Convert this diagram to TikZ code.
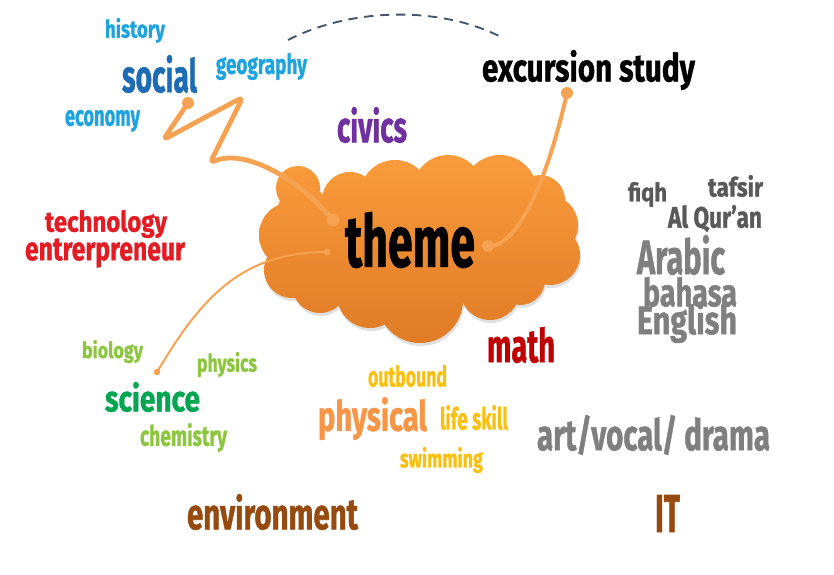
\documentclass[tikz,border=0pt]{standalone}
\usepackage{fontspec}
\setmainfont{Fira Sans}[BoldFeatures={FakeBold=1.2}]
\usepackage{graphicx}
\newlength\pxu \setlength\pxu{0.75pt}
\newcommand\fitword[3]{\resizebox*{#1\pxu}{#2\pxu}{\bfseries #3}}
\definecolor{cyanw}{HTML}{1DA3DF}
\definecolor{socialc}{HTML}{1B6CB5}
\definecolor{civicsc}{HTML}{7030A0}
\definecolor{redw}{HTML}{E41B23}
\definecolor{dgray}{HTML}{595959}
\definecolor{mgray}{HTML}{7F7F7F}
\definecolor{lgreen}{HTML}{8CC63F}
\definecolor{dgreen}{HTML}{00A650}
\definecolor{mathc}{HTML}{C00000}
\definecolor{yelw}{HTML}{FAC010}
\definecolor{physc}{HTML}{F79646}
\definecolor{brownw}{HTML}{974A0E}
\definecolor{dashc}{HTML}{44546A}
\definecolor{connc}{HTML}{F6A253}
\definecolor{cloudtop}{HTML}{FA9C3C}
\definecolor{cloudbot}{HTML}{E07A26}
\tikzset{
  word/.style={inner sep=0pt, outer sep=0pt, anchor=center},
  conn/.style={draw=connc, line cap=round, line join=round},
  dotn/.style={circle, fill=connc, inner sep=0pt, minimum size=#1},
}
\newcommand\cloudpath{%
  (298,188) circle (22) (350,200) circle (28) (395,195) circle (35)
  (448,190) circle (35) (500,192) circle (37) (540,200) circle (25)
  (548,225) circle (30) (550,255) circle (30) (520,280) circle (25)
  (490,290) circle (30) (420,300) circle (43) (370,295) circle (33)
  (320,285) circle (28) (292,270) circle (28) (292,235) circle (33)
  (303,210) circle (25) (420,240) ellipse (130 and 65)}
\begin{document}
\begin{tikzpicture}[x=0.75pt,y=-0.75pt]
\useasboundingbox (0,0) rectangle (834,574);
% cloud shadow
\fill[black!12, shift={(1,3)}] \cloudpath;
% cloud
\begin{scope}
  \clip \cloudpath;
  \shade[top color=cloudtop, bottom color=cloudbot] (240,150) rectangle (600,350);
\end{scope}
% dashed arc
\coordinate (dA) at (288,40);
\coordinate (dB) at (503,38);
\draw[dashc, line width=1.4pt, dash pattern=on 7pt off 5pt] (dA) .. controls (350,8) and (440,5) .. (dB);
% dots
\node[dotn=9pt] (sdot) at (188,103) {};
\node[dotn=9.5pt] (tdot1) at (333,220) {};
\node[dotn=9pt] (edot) at (567,93) {};
\node[dotn=9pt] (tdot2) at (488,246) {};
\node[dotn=5pt] (cdot) at (157,372) {};
\node[dotn=5pt] (tdot3) at (327,252) {};
% connectors
\draw[conn, line width=3.6pt, rounded corners=4pt] (sdot.center) -- (163,140) -- (243,97) -- (210,163) .. controls (240,150) and (290,170) .. (tdot1.center);
\draw[conn, line width=3pt] (edot.center) .. controls (545,190) and (515,248) .. (tdot2.center);
\draw[conn, line width=1.5pt] (cdot.center) .. controls (200,300) and (240,252) .. (tdot3.center);
% words
\node[word, text=cyanw] (history) at (135,30.5) {\fitword{60}{25}{history}};
\node[word, text=socialc] (social) at (159.5,74) {\fitword{75}{38}{social}};
\node[word, text=cyanw] (geography) at (261.5,66.5) {\fitword{91}{27}{geography}};
\node[word, text=cyanw] (economy) at (102.5,121) {\fitword{75}{22}{economy}};
\node[word, text=civicsc] (civics) at (372,125) {\fitword{70}{36}{civics}};
\node[word, text=black] (excursion) at (588.5,70) {\fitword{213}{40}{excursion study}};
\node[word, text=black] (theme) at (410,240) {\fitword{130}{56}{theme}};
\node[word, text=redw] (technology) at (106,224) {\fitword{122}{28}{technology}};
\node[word, text=redw] (entre) at (105,253) {\fitword{160}{29}{entrerpreneur}};
\node[word, text=dgray] (fiqh) at (647.5,194.5) {\fitword{39}{25}{fiqh}};
\node[word, text=dgray] (tafsir) at (735.5,186) {\fitword{55}{22}{tafsir}};
\node[word, text=dgray] (quran) at (715,218.5) {\fitword{94}{27}{Al Qur’an}};
\node[word, text=mgray] (arabic) at (681,255) {\fitword{88}{40}{Arabic}};
\node[word, text=mgray] (bahasa) at (690,292) {\fitword{94}{30}{bahasa}};
\node[word, text=mgray] (english) at (687,322.5) {\fitword{100}{41}{English}};
\node[word, text=lgreen] (biology) at (112.5,351.5) {\fitword{61}{23}{biology}};
\node[word, text=lgreen] (physics) at (227,364.5) {\fitword{60}{25}{physics}};
\node[word, text=dgreen] (science) at (152.5,397) {\fitword{95}{30}{science}};
\node[word, text=lgreen] (chemistry) at (183.5,437.5) {\fitword{87}{29}{chemistry}};
\node[word, text=mathc] (math) at (521,345) {\fitword{68}{36}{math}};
\node[word, text=yelw] (outbound) at (407.5,376) {\fitword{79}{22}{outbound}};
\node[word, text=physc] (physical) at (372.5,418.5) {\fitword{109}{43}{physical}};
\node[word, text=yelw] (lifeskill) at (474,417.5) {\fitword{68}{25}{life skill}};
\node[word, text=yelw] (swimming) at (441.5,460) {\fitword{83}{26}{swimming}};
\node[word, text=mgray] (art) at (653.5,435) {\fitword{233}{40}{art/vocal/ drama}};
\node[word, text=brownw] (it) at (667.5,513.5) {\fitword{25}{37}{IT}};
\node[word, text=brownw] (environment) at (272.5,512) {\fitword{171}{36}{environment}};
\end{tikzpicture}
\end{document}
